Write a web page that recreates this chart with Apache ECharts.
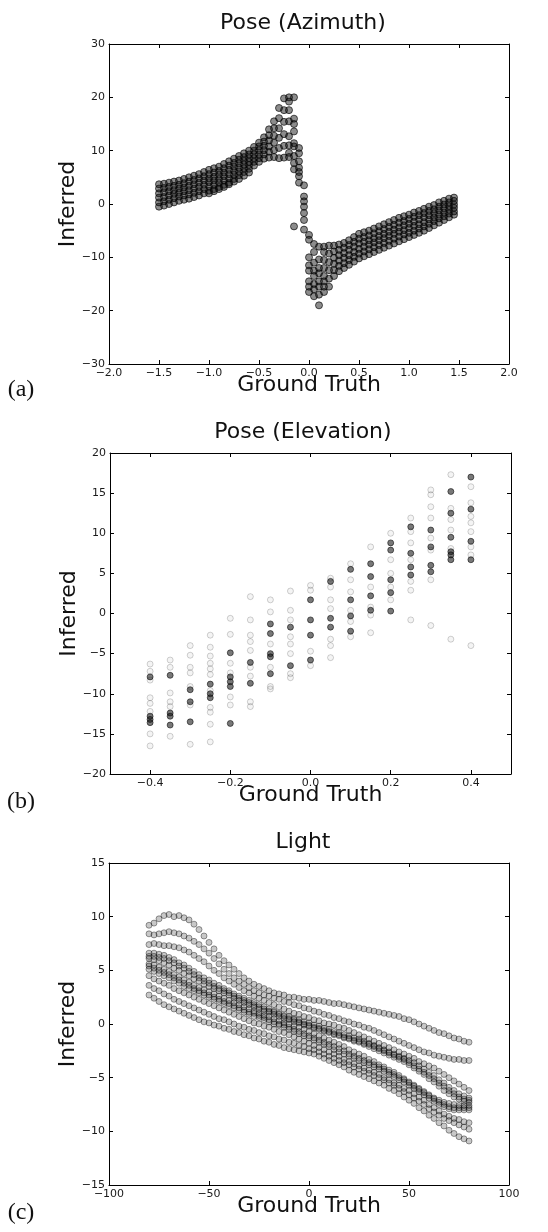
<!DOCTYPE html>
<html><head><meta charset="utf-8">
<script src="https://cdn.jsdelivr.net/npm/echarts@6/dist/echarts.min.js"></script>
<style>html,body{margin:0;padding:0;background:#fff}#c{width:548px;height:1232px}</style>
</head><body><div id="c"></div>
<script>
// ---------- (a) Pose (Azimuth) ----------
const azLeftX = [-1.50,-1.45,-1.40,-1.35,-1.30,-1.25,-1.20,-1.15,-1.10,-1.05,-1.00,-0.95,-0.90,-0.85,-0.80,-0.75,-0.70,-0.65,-0.60,-0.55,-0.50,-0.45,-0.40,-0.35,-0.30,-0.25];
const azLeft0 = [-0.5,-0.3,0.0,0.3,0.6,0.8,1.0,1.3,1.6,2.0,2.5,2.8,3.2,3.6,4.0,4.7,5.4,6.0,6.6,7.2,7.9,8.5,8.7,8.8,8.6,8.7];
const azLeft1 = [0.3,0.5,0.8,1.1,1.4,1.6,1.8,2.1,2.4,2.8,3.3,3.6,4.0,4.4,4.8,5.5,6.1,6.7,7.3,7.9,8.6,9.3,9.8,10.1,10.5,10.9];
const azLeft2 = [1.2,1.3,1.6,1.9,2.1,2.4,2.6,2.9,3.2,3.6,4.1,4.4,4.7,5.2,5.6,6.2,6.8,7.4,7.9,8.6,9.3,10.1,10.8,11.5,12.4,13.1];
const azLeft3 = [2.0,2.2,2.4,2.6,2.9,3.1,3.4,3.7,4.0,4.4,4.8,5.1,5.5,5.9,6.4,7.0,7.6,8.1,8.6,9.3,10.1,10.9,11.9,12.8,14.2,15.4];
const azLeft4 = [2.9,3.0,3.2,3.4,3.6,3.9,4.2,4.5,4.8,5.2,5.6,5.9,6.2,6.7,7.2,7.7,8.3,8.8,9.3,10.0,10.8,11.7,12.9,14.2,16.1,17.6];
const azLeft5 = [3.7,3.8,4.0,4.2,4.4,4.7,5.0,5.3,5.6,6.0,6.4,6.7,7.0,7.5,8.0,8.5,9.0,9.5,10.0,10.7,11.5,12.5,14.0,15.5,18.0,19.8];
const azLowX = [-1.00,-0.95,-0.90,-0.85,-0.80,-0.75,-0.70,-0.65,-0.60];
const azLowY = [2.0,2.4,2.8,3.2,3.7,4.2,4.7,5.3,5.9];
const azSpikeX = [-0.20,-0.15,-0.10,-0.05,0.00,0.05,0.10,0.15];
const azSpikeY = [
  [20.0,19.2,17.6,15.5,12.7,11.0,9.6,8.8],
  [20.0,16.0,15.0,13.6,11.4,10.8,9.0,7.7,6.5,-4.2],
  [10.5,9.5,8.0,6.8,6.0,5.2,4.0],
  [3.5,1.4,0.5,-0.5,-1.7,-3.0,-4.8],
  [-5.8,-6.7,-10.0,-11.5,-12.5,-14.5,-15.5,-16.5],
  [-7.5,-9.0,-11.0,-12.5,-13.5,-15.0,-16.0,-17.3],
  [-8.0,-10.4,-12.0,-13.0,-14.5,-15.5,-17.0,-19.0],
  [-8.0,-9.0,-10.5,-12.0,-13.5,-14.5,-15.5,-16.5]
];
const azRightX = [0.20,0.25,0.30,0.35,0.40,0.45,0.50,0.55,0.60,0.65,0.70,0.75,0.80,0.85,0.90,0.95,1.00,1.05,1.10,1.15,1.20,1.25,1.30,1.35,1.40,1.45];
const azRight0 = [-15.5,-13.5,-12.6,-12.0,-11.4,-10.8,-10.2,-9.8,-9.4,-9.0,-8.6,-8.2,-7.8,-7.4,-7.0,-6.6,-6.2,-5.8,-5.4,-5.0,-4.5,-4.0,-3.5,-3.0,-2.5,-2.0];
const azRight1 = [-14.0,-12.4,-11.6,-11.1,-10.5,-9.9,-9.3,-8.9,-8.5,-8.1,-7.7,-7.3,-6.9,-6.5,-6.1,-5.7,-5.4,-5.0,-4.6,-4.2,-3.7,-3.2,-2.7,-2.3,-1.8,-1.4];
const azRight2 = [-12.4,-11.2,-10.6,-10.1,-9.6,-9.0,-8.4,-8.0,-7.6,-7.2,-6.8,-6.4,-6.0,-5.6,-5.2,-4.9,-4.5,-4.1,-3.8,-3.4,-2.9,-2.5,-2.0,-1.6,-1.1,-0.7];
const azRight3 = [-10.9,-10.1,-9.6,-9.2,-8.6,-8.0,-7.4,-7.1,-6.8,-6.4,-6.0,-5.6,-5.2,-4.8,-4.4,-4.0,-3.7,-3.3,-2.9,-2.5,-2.1,-1.7,-1.2,-0.8,-0.4,-0.1];
const azRight4 = [-9.3,-8.9,-8.6,-8.2,-7.7,-7.1,-6.5,-6.2,-5.9,-5.5,-5.1,-4.7,-4.3,-3.9,-3.5,-3.2,-2.8,-2.4,-2.1,-1.7,-1.3,-1.0,-0.5,-0.1,0.3,0.6];
const azRight5 = [-7.8,-7.8,-7.6,-7.3,-6.8,-6.2,-5.6,-5.3,-5.0,-4.6,-4.2,-3.8,-3.4,-3.0,-2.6,-2.3,-2.0,-1.6,-1.3,-0.9,-0.5,-0.2,0.3,0.6,1.0,1.2];

// ---------- (b) Pose (Elevation) ----------
const elevX = [-0.40,-0.35,-0.30,-0.25,-0.20,-0.15,-0.10,-0.05,0.00,0.05,0.10,0.15,0.20,0.25,0.30,0.35,0.40];
const elevLight = [
  [-6.3,-7.2,-8.3,-10.5,-11.2,-12.2,-15.0,-16.5],
  [-5.8,-6.7,-9.9,-11.0,-11.6,-15.3],
  [-4.0,-5.2,-6.7,-7.4,-9.1,-11.4,-16.3],
  [-2.7,-4.2,-5.3,-6.2,-6.9,-7.6,-9.6,-11.7,-12.3,-13.8,-16.0],
  [-0.6,-2.6,-6.2,-7.4,-10.4,-11.4],
  [2.1,-0.8,-2.7,-3.5,-4.6,-6.7,-7.8,-11.0,-11.6],
  [1.7,0.2,-3.8,-6.7,-9.1,-9.4],
  [2.8,0.4,-0.8,-2.9,-3.8,-5.0,-7.5,-8.0],
  [3.5,2.9,-4.7,-6.5],
  [4.4,3.3,1.7,0.6,-3.2,-4.0,-5.5],
  [6.2,4.2,2.7,0.4,-1.0,-2.9],
  [8.3,3.3,0.8,-0.2,-2.4],
  [10.0,6.7,5.0,3.3,1.7],
  [11.9,10.2,8.8,6.7,4.0,2.9,-0.8],
  [15.4,14.8,13.3,11.9,9.4,7.9,4.2,-1.5],
  [17.3,13.1,11.7,10.4,8.1,-3.2],
  [15.8,13.8,12.1,11.3,10.2,8.3,7.3,-4.0]
];
const elevDark = [
  [-7.9,-12.8,-13.2,-13.6],
  [-7.7,-12.4,-12.8,-13.9],
  [-9.5,-11.0,-13.5],
  [-8.8,-10.0,-10.5],
  [-4.9,-7.9,-8.5,-9.1,-13.7],
  [-6.1,-8.7],
  [-1.3,-2.5,-5.0,-5.4,-7.5],
  [-1.7,-6.5],
  [1.7,-0.8,-2.7,-5.8],
  [4.0,-0.6,-1.7],
  [5.5,1.7,-0.3,-2.2],
  [6.2,4.6,2.2,0.4],
  [8.8,7.9,4.2,2.6,0.3],
  [10.8,7.5,5.8,4.8],
  [10.4,8.3,6.0,5.2],
  [15.2,12.5,9.5,7.7,7.3,6.7],
  [17.0,13.0,9.0,6.7]
];
const elevTicks = [-0.4,-0.2,0.0,0.2,0.4];

// ---------- (c) Light ----------
const lightX = [-80,-77.5,-75,-72.5,-70,-67.5,-65,-62.5,-60,-57.5,-55,-52.5,-50,-47.5,-45,-42.5,-40,-37.5,-35,-32.5,-30,-27.5,-25,-22.5,-20,-17.5,-15,-12.5,-10,-7.5,-5,-2.5,0,2.5,5,7.5,10,12.5,15,17.5,20,22.5,25,27.5,30,32.5,35,37.5,40,42.5,45,47.5,50,52.5,55,57.5,60,62.5,65,67.5,70,72.5,75,77.5,80];
const lightA = [9.2,9.4,9.8,10.1,10.2,10.0,10.1,9.9,9.7,9.3,8.8,8.2,7.6,7.0,6.4,5.9,5.5,5.1,4.7,4.3,4.0,3.7,3.5,3.3,3.1,2.9,2.8,2.7,2.5,2.5,2.4,2.3,2.3,2.2,2.2,2.1,2.0,1.9,1.9,1.8,1.7,1.6,1.5,1.4,1.3,1.2,1.1,1.0,0.9,0.8,0.7,0.5,0.4,0.2,0.0,-0.2,-0.4,-0.6,-0.8,-0.9,-1.1,-1.3,-1.4,-1.6,-1.7];
const lightB = [8.4,8.3,8.4,8.5,8.6,8.5,8.4,8.2,8.0,7.7,7.4,7.0,6.6,6.1,5.6,5.1,4.7,4.3,4.0,3.7,3.4,3.1,2.9,2.7,2.6,2.4,2.3,2.1,2.0,1.8,1.7,1.5,1.4,1.2,1.1,0.9,0.8,0.6,0.5,0.3,0.2,0.0,-0.1,-0.3,-0.4,-0.6,-0.8,-1.0,-1.2,-1.4,-1.6,-1.8,-2.0,-2.2,-2.4,-2.6,-2.7,-2.9,-3.0,-3.1,-3.2,-3.3,-3.3,-3.4,-3.4];
const lightC = [7.4,7.5,7.4,7.3,7.3,7.2,7.1,6.9,6.7,6.4,6.1,5.8,5.4,5.0,4.7,4.3,4.0,3.7,3.4,3.1,2.9,2.6,2.4,2.2,2.0,1.8,1.6,1.4,1.2,1.0,0.9,0.7,0.6,0.4,0.3,0.1,0.0,-0.1,-0.3,-0.4,-0.6,-0.8,-1.0,-1.2,-1.4,-1.6,-1.8,-2.0,-2.2,-2.4,-2.6,-2.8,-3.0,-3.2,-3.5,-3.7,-3.9,-4.1,-4.4,-4.7,-5.0,-5.3,-5.6,-5.9,-6.2];
const lightD = [6.6,6.6,6.5,6.4,6.2,6.0,5.7,5.5,5.2,4.9,4.6,4.3,4.1,3.8,3.6,3.3,3.1,2.8,2.6,2.4,2.2,2.0,1.8,1.6,1.4,1.2,1.0,0.8,0.7,0.5,0.4,0.2,0.1,-0.1,-0.2,-0.4,-0.5,-0.7,-0.8,-1.0,-1.1,-1.3,-1.4,-1.6,-1.8,-2.0,-2.2,-2.4,-2.6,-2.8,-3.0,-3.2,-3.4,-3.6,-3.9,-4.2,-4.5,-4.8,-5.2,-5.5,-5.9,-6.2,-6.5,-6.7,-6.9];
const lightK = [6.3,6.3,6.2,6.1,5.9,5.7,5.4,5.2,4.9,4.6,4.3,4.0,3.8,3.5,3.3,3.1,2.9,2.6,2.4,2.2,2.0,1.8,1.6,1.4,1.2,1.1,0.9,0.7,0.5,0.4,0.2,0.0,-0.1,-0.3,-0.4,-0.6,-0.7,-0.9,-1.0,-1.2,-1.3,-1.5,-1.6,-1.8,-1.9,-2.1,-2.3,-2.5,-2.7,-2.9,-3.1,-3.3,-3.6,-3.9,-4.2,-4.5,-4.8,-5.1,-5.5,-5.8,-6.2,-6.5,-6.8,-7.0,-7.1];
const lightE = [6.1,6.0,5.9,5.7,5.5,5.2,5.0,4.7,4.5,4.2,4.0,3.7,3.5,3.3,3.1,2.9,2.7,2.4,2.2,2.0,1.8,1.6,1.4,1.2,1.1,0.9,0.7,0.5,0.4,0.2,0.1,-0.1,-0.2,-0.4,-0.5,-0.7,-0.8,-1.0,-1.1,-1.3,-1.4,-1.6,-1.7,-1.9,-2.1,-2.3,-2.5,-2.7,-2.9,-3.1,-3.3,-3.5,-3.8,-4.1,-4.4,-4.7,-5.1,-5.4,-5.8,-6.2,-6.5,-6.8,-7.0,-7.2,-7.3];
const lightF = [5.6,5.5,5.3,5.1,4.9,4.6,4.4,4.1,3.9,3.6,3.4,3.2,3.0,2.8,2.6,2.4,2.2,2.0,1.8,1.6,1.4,1.2,1.0,0.8,0.7,0.5,0.3,0.1,0.0,-0.2,-0.3,-0.5,-0.7,-0.9,-1.1,-1.3,-1.5,-1.7,-1.9,-2.1,-2.4,-2.6,-2.8,-3.0,-3.3,-3.5,-3.8,-4.0,-4.3,-4.5,-4.8,-5.1,-5.4,-5.7,-6.0,-6.3,-6.6,-6.9,-7.1,-7.3,-7.4,-7.5,-7.6,-7.6,-7.6];
const lightL = [5.4,5.2,5.0,4.8,4.6,4.3,4.1,3.8,3.6,3.3,3.1,2.9,2.7,2.5,2.3,2.1,1.9,1.7,1.5,1.3,1.1,1.0,0.8,0.6,0.4,0.2,0.0,-0.1,-0.3,-0.5,-0.7,-0.9,-1.1,-1.3,-1.5,-1.7,-1.9,-2.1,-2.3,-2.5,-2.8,-3.0,-3.2,-3.4,-3.6,-3.8,-4.0,-4.2,-4.5,-4.7,-5.0,-5.2,-5.5,-5.8,-6.1,-6.4,-6.7,-7.0,-7.3,-7.5,-7.7,-7.8,-7.8,-7.8,-7.8];
const lightG = [5.1,4.9,4.7,4.5,4.3,4.0,3.8,3.5,3.3,3.1,2.9,2.7,2.5,2.3,2.1,1.9,1.7,1.5,1.3,1.1,0.9,0.7,0.6,0.4,0.2,0.0,-0.1,-0.3,-0.5,-0.7,-0.9,-1.1,-1.3,-1.5,-1.7,-1.9,-2.1,-2.4,-2.6,-2.8,-3.0,-3.2,-3.4,-3.6,-3.8,-4.0,-4.2,-4.4,-4.7,-4.9,-5.2,-5.4,-5.7,-6.0,-6.3,-6.6,-6.9,-7.2,-7.5,-7.7,-7.9,-8.0,-8.0,-8.0,-8.0];
const lightH = [4.5,4.2,4.0,3.8,3.6,3.3,3.1,2.9,2.7,2.5,2.3,2.1,1.9,1.7,1.5,1.3,1.1,0.9,0.7,0.5,0.3,0.1,0.0,-0.2,-0.3,-0.5,-0.7,-0.8,-1.0,-1.2,-1.4,-1.6,-1.8,-2.0,-2.2,-2.4,-2.6,-2.8,-3.0,-3.3,-3.5,-3.7,-3.9,-4.1,-4.3,-4.5,-4.7,-5.0,-5.2,-5.5,-5.7,-6.0,-6.2,-6.5,-6.8,-7.1,-7.5,-7.8,-8.1,-8.4,-8.6,-8.8,-8.9,-9.1,-9.2];
const lightI = [3.6,3.3,3.1,2.8,2.6,2.3,2.1,1.9,1.7,1.5,1.3,1.1,0.9,0.7,0.5,0.4,0.2,0.0,-0.2,-0.3,-0.5,-0.6,-0.8,-0.9,-1.1,-1.2,-1.4,-1.5,-1.7,-1.8,-2.0,-2.1,-2.3,-2.4,-2.6,-2.8,-3.0,-3.2,-3.4,-3.6,-3.8,-4.0,-4.2,-4.4,-4.6,-4.8,-5.0,-5.2,-5.5,-5.7,-6.0,-6.3,-6.6,-6.9,-7.2,-7.5,-7.9,-8.2,-8.5,-8.8,-9.0,-9.2,-9.4,-9.6,-9.8];
const lightJ = [2.7,2.4,2.1,1.8,1.6,1.4,1.2,1.0,0.8,0.6,0.4,0.2,0.1,-0.1,-0.2,-0.4,-0.5,-0.7,-0.8,-1.0,-1.1,-1.3,-1.4,-1.6,-1.7,-1.9,-2.0,-2.2,-2.3,-2.4,-2.5,-2.6,-2.7,-2.8,-3.0,-3.2,-3.4,-3.6,-3.8,-4.0,-4.3,-4.5,-4.7,-4.9,-5.1,-5.3,-5.5,-5.7,-6.0,-6.2,-6.5,-6.8,-7.1,-7.4,-7.8,-8.1,-8.5,-8.8,-9.2,-9.5,-9.9,-10.2,-10.5,-10.7,-10.9];

// ---------- build ----------
const M = '\u2212';
const fmt1 = v => (Math.round(v*10)/10).toFixed(1).replace('-', M);
const fmt0 = v => String(Math.round(v)).replace('-', M);
function track(xs, ys){ const out=[]; xs.forEach((x,i)=>{ if(ys[i]!=null) out.push([x, ys[i]]); }); return out; }
function cols(xs, yss){ const out=[]; xs.forEach((x,i)=>yss[i].forEach(y=>out.push([x,y]))); return out; }

const FONT = '"DejaVu Sans", sans-serif';
const lab = {fontFamily: FONT, fontSize: 11, color: '#1a1a1a'};
const nameStyle = {fontFamily: FONT, fontSize: 22, color: '#111'};
const lineS = {show:true, onZero:false, lineStyle:{color:'#000', width:1}};
const tickS = () => ({show:true, inside:true, length:4, lineStyle:{color:'#000', width:1}});

const grids = [
  {left:109, top:44, width:400, height:320},
  {left:110, top:453, width:401, height:321},
  {left:109, top:863, width:400, height:322}
];
const axCfg = [
  {x:{min:-2,max:2,interval:0.5,fmt:fmt1}, y:{min:-30,max:30,interval:10,fmt:fmt0}},
  {x:{min:-0.5,max:0.5,fmt:fmt1,custom:elevTicks}, y:{min:-20,max:20,interval:5,fmt:fmt0}},
  {x:{min:-100,max:100,interval:50,fmt:fmt0}, y:{min:-15,max:15,interval:5,fmt:fmt0}}
];
const xAxis=[], yAxis=[];
axCfg.forEach((c,g)=>{
  const xb = {type:'value', gridIndex:g, min:c.x.min, max:c.x.max, position:'bottom',
    axisLine:lineS, axisTick:tickS(), splitLine:{show:false},
    axisLabel:Object.assign({margin:4, formatter:c.x.fmt, showMinLabel:true, showMaxLabel:true}, lab),
    name:'Ground Truth', nameLocation:'middle', nameGap:10, nameMoveOverlap:false, nameTextStyle:nameStyle};
  const xt = {type:'value', gridIndex:g, min:c.x.min, max:c.x.max, position:'top',
    axisLine:lineS, axisTick:tickS(), axisLabel:{show:false}, splitLine:{show:false}};
  if (c.x.interval) { xb.interval = c.x.interval; xt.interval = c.x.interval; }
  if (c.x.custom) {
    xb.axisTick.customValues = c.x.custom; xb.axisLabel.customValues = c.x.custom;
    xt.axisTick.customValues = c.x.custom;
  }
  xAxis.push(xb, xt);
  const yl = {type:'value', gridIndex:g, min:c.y.min, max:c.y.max, interval:c.y.interval, position:'left',
    axisLine:lineS, axisTick:tickS(), splitLine:{show:false},
    axisLabel:Object.assign({margin:4, formatter:c.y.fmt, showMinLabel:true, showMaxLabel:true}, lab),
    name:'Inferred', nameLocation:'middle', nameGap:30, nameRotate:90, nameMoveOverlap:false, nameTextStyle:nameStyle};
  const yr = {type:'value', gridIndex:g, min:c.y.min, max:c.y.max, interval:c.y.interval, position:'right',
    axisLine:lineS, axisTick:tickS(), axisLabel:{show:false}, splitLine:{show:false}};
  yAxis.push(yl, yr);
});

const azStyle = {color:'rgba(15,15,15,0.6)', borderColor:'rgba(0,0,0,0.8)', borderWidth:1};
const lightPtStyle = {color:'rgba(30,30,30,0.3)', borderColor:'rgba(0,0,0,0.6)', borderWidth:0.8};
const elevLightStyle = {color:'rgba(80,80,80,0.08)', borderColor:'rgba(0,0,0,0.28)', borderWidth:0.8};
const elevDarkStyle = {color:'rgba(20,20,20,0.72)', borderColor:'rgba(0,0,0,0.85)', borderWidth:0.8};
function sc(g, data, style, size){ return {type:'scatter', xAxisIndex:2*g, yAxisIndex:2*g, data, symbol:'circle', symbolSize:size||6, itemStyle:style, silent:true, animation:false, large:false, progressive:0}; }

const azData = [].concat(
  track(azLeftX, azLeft0), track(azLeftX, azLeft1), track(azLeftX, azLeft2),
  track(azLeftX, azLeft3), track(azLeftX, azLeft4), track(azLeftX, azLeft5),
  track(azLowX, azLowY), cols(azSpikeX, azSpikeY),
  track(azRightX, azRight0), track(azRightX, azRight1), track(azRightX, azRight2),
  track(azRightX, azRight3), track(azRightX, azRight4), track(azRightX, azRight5)
);
const lightData = [].concat(
  track(lightX, lightA), track(lightX, lightB), track(lightX, lightC), track(lightX, lightD),
  track(lightX, lightK), track(lightX, lightE), track(lightX, lightF), track(lightX, lightL),
  track(lightX, lightG), track(lightX, lightH), track(lightX, lightI), track(lightX, lightJ)
);

const series = [
  sc(0, azData, azStyle, 7),
  sc(1, cols(elevX, elevLight), elevLightStyle, 6),
  sc(1, cols(elevX, elevDark), elevDarkStyle, 6),
  sc(2, lightData, lightPtStyle, 6)
];

const titleFont = '22px "DejaVu Sans", sans-serif';
const serifFont = '24px "Liberation Serif", "DejaVu Serif", serif';
function txt(x, y, text, font){ return {type:'text', x, y, silent:true, style:{text, font, fill:'#111', align:'center', verticalAlign:'middle'}}; }
const graphic = [
  txt(303, 23, 'Pose (Azimuth)', titleFont),
  txt(303, 432, 'Pose (Elevation)', titleFont),
  txt(303, 842, 'Light', titleFont),
  txt(21, 390, '(a)', serifFont),
  txt(21, 802, '(b)', serifFont),
  txt(21, 1213, '(c)', serifFont)
];

const chart = echarts.init(document.getElementById('c'), null, {renderer:'canvas'});
chart.setOption({animation:false, backgroundColor:'#fff', grid:grids, xAxis, yAxis, series, graphic});
</script></body></html>
